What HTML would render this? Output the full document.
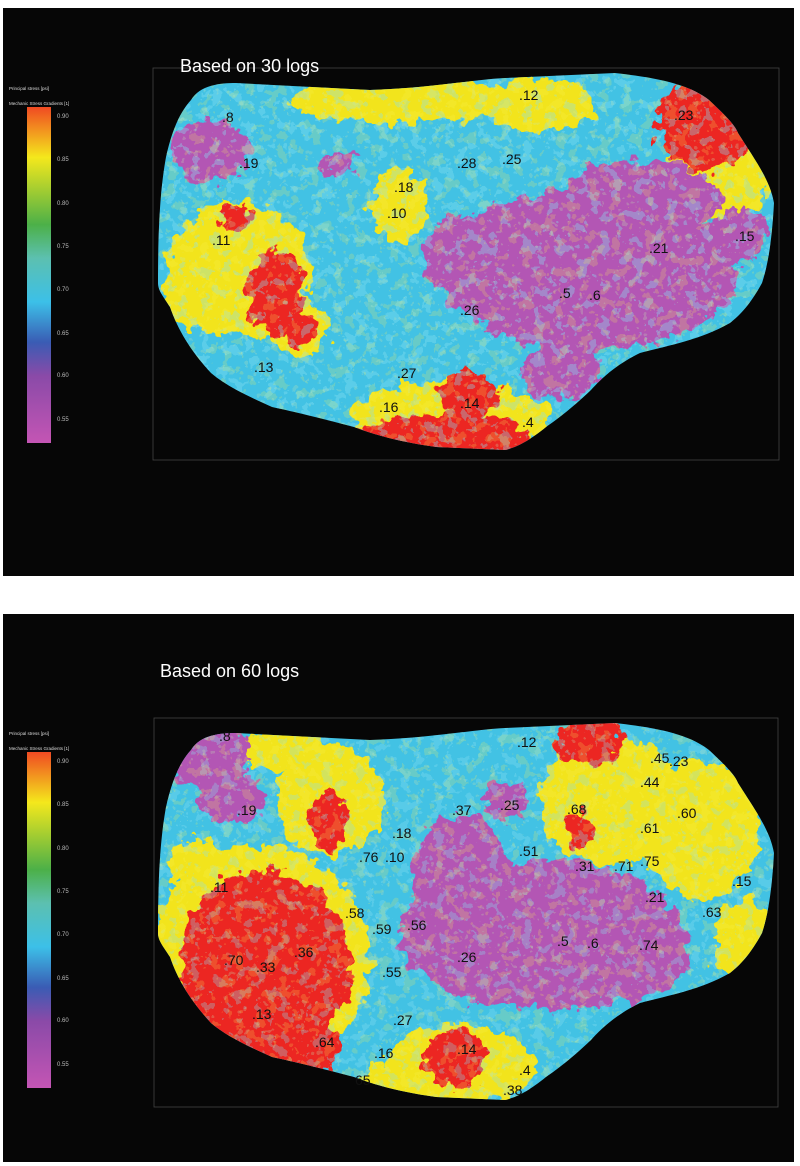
<!DOCTYPE html>
<html><head><style>
body{margin:0;background:#fff;width:800px;height:1166px;overflow:hidden}
svg{display:block}
</style></head><body>
<svg width="800" height="1166" viewBox="0 0 800 1166" xmlns="http://www.w3.org/2000/svg" font-family="Liberation Sans, sans-serif">
<defs>
<filter id="n" x="-30%" y="-30%" width="160%" height="160%">
<feTurbulence type="fractalNoise" baseFrequency="0.07" numOctaves="3" seed="4"/>
<feDisplacementMap in="SourceGraphic" scale="26" xChannelSelector="R" yChannelSelector="G"/>
</filter>
<filter id="n2" x="-30%" y="-30%" width="160%" height="160%">
<feTurbulence type="fractalNoise" baseFrequency="0.12" numOctaves="2" seed="9"/>
<feDisplacementMap in="SourceGraphic" scale="14" xChannelSelector="R" yChannelSelector="G"/>
</filter>
<filter id="spC" x="0" y="0" width="100%" height="100%">
<feTurbulence type="fractalNoise" baseFrequency="0.09" numOctaves="3" seed="21"/>
<feColorMatrix type="matrix" values="0 0 0 0 0.26  0 0 0 0 0.76  0 0 0 0 0.89  1 0 0 0 0"/>
<feComponentTransfer><feFuncA type="discrete" tableValues="0 0 0 0 0 0 1 1 1 1"/></feComponentTransfer>
</filter>
<filter id="spY" x="0" y="0" width="100%" height="100%">
<feTurbulence type="fractalNoise" baseFrequency="0.09" numOctaves="3" seed="57"/>
<feColorMatrix type="matrix" values="0 0 0 0 0.95  0 0 0 0 0.89  0 0 0 0 0.11  1 0 0 0 0"/>
<feComponentTransfer><feFuncA type="discrete" tableValues="0 0 0 0 0 0 1 1 1 1"/></feComponentTransfer>
</filter>
<filter id="spG" x="0" y="0" width="100%" height="100%">
<feTurbulence type="fractalNoise" baseFrequency="0.14" numOctaves="2" seed="77"/>
<feColorMatrix type="matrix" values="0 0 0 0 0.55  0 0 0 0 0.78  0 0 0 0 0.45  1 0 0 0 0"/>
<feComponentTransfer><feFuncA type="discrete" tableValues="0 0 0 0 0 0 0 1 1 1"/></feComponentTransfer>
</filter>
<linearGradient id="cb" x1="0" y1="1" x2="0" y2="0">
<stop offset="0" stop-color="#c455b4"/>
<stop offset="0.2" stop-color="#8a4aa8"/>
<stop offset="0.3" stop-color="#3a5cb4"/>
<stop offset="0.42" stop-color="#3cc0e8"/>
<stop offset="0.55" stop-color="#5cc0b0"/>
<stop offset="0.65" stop-color="#4cb048"/>
<stop offset="0.85" stop-color="#f4e81c"/>
<stop offset="1" stop-color="#f04a22"/>
</linearGradient>
<path id="b2" d="M191,750 C200,735 220,733 236,733 L370,740 C430,738 470,730 505,728 L615,723 C660,728 690,735 709,750 C725,765 735,775 738,783 C755,810 770,830 774,853 C772,890 768,915 762,933 C750,955 740,965 730,973 C700,990 670,995 640,1003 C615,1015 600,1030 591,1040 C570,1060 556,1070 546,1077 C530,1090 518,1097 505,1100 L436,1097 C400,1092 375,1085 354,1077 C320,1068 295,1062 272,1057 C245,1045 225,1035 211,1023 C190,1000 178,980 170,957 C162,945 158,940 158,933 C158,880 160,840 166,807 C172,780 180,762 191,750 Z"/>
<clipPath id="c1"><use href="#b2" transform="translate(0,-650)"/></clipPath>
<clipPath id="c2"><use href="#b2"/></clipPath>
</defs>

<rect x="3" y="8" width="791" height="568" fill="#060606"/>
<rect x="3" y="614" width="791" height="548" fill="#060606"/>

<g stroke="#444" stroke-width="0.8" fill="none">
<rect x="153" y="68" width="626" height="392"/>
<rect x="154" y="718" width="624" height="389"/>
</g>

<text x="180" y="72" fill="#fff" font-size="18">Based on 30 logs</text>
<text x="160" y="677" fill="#fff" font-size="18">Based on 60 logs</text>

<g id="cbar">
<text x="9" y="90" fill="#ddd" font-size="4.5">Principal stress [psi]</text>
<text x="9" y="105" fill="#ddd" font-size="4.5">Mechanic Stress Gradients [1]</text>
<rect x="27" y="107" width="24" height="336" fill="url(#cb)"/>
<g fill="#bbb" font-size="6">
<text x="57" y="118">0.90</text><text x="57" y="161">0.85</text><text x="57" y="205">0.80</text>
<text x="57" y="248">0.75</text><text x="57" y="291">0.70</text><text x="57" y="335">0.65</text>
<text x="57" y="377">0.60</text><text x="57" y="421">0.55</text>
</g>
</g>
<use href="#cbar" transform="translate(0,645)"/>

<!-- blob 1 -->
<g clip-path="url(#c1)">
<rect x="150" y="60" width="640" height="420" fill="#42c2e4"/>
<g filter="url(#n)">
<g fill="#f2e41c">
<ellipse cx="240" cy="270" rx="72" ry="68"/><ellipse cx="400" cy="100" rx="110" ry="25"/>
<ellipse cx="540" cy="105" rx="55" ry="28"/><ellipse cx="400" cy="205" rx="28" ry="38"/>
<ellipse cx="720" cy="170" rx="55" ry="50"/><ellipse cx="185" cy="290" rx="22" ry="36"/>
<ellipse cx="450" cy="420" rx="100" ry="40"/><ellipse cx="300" cy="330" rx="28" ry="28"/>
</g>
<g fill="#b356b4">
<ellipse cx="590" cy="270" rx="150" ry="80"/><ellipse cx="470" cy="255" rx="50" ry="40"/>
<ellipse cx="640" cy="200" rx="80" ry="40"/><ellipse cx="210" cy="150" rx="38" ry="32"/>
<ellipse cx="560" cy="370" rx="40" ry="30"/><ellipse cx="740" cy="235" rx="30" ry="25"/>
<ellipse cx="340" cy="165" rx="18" ry="14"/>
</g>
<g fill="#ec2620">
<ellipse cx="440" cy="440" rx="95" ry="25"/><ellipse cx="470" cy="395" rx="30" ry="25"/>
<ellipse cx="705" cy="125" rx="50" ry="45"/><ellipse cx="275" cy="290" rx="28" ry="42"/>
<ellipse cx="235" cy="220" rx="18" ry="14"/><ellipse cx="300" cy="330" rx="16" ry="16"/>
</g>
</g>
<rect x="150" y="60" width="640" height="420" filter="url(#spC)" opacity="0.35"/>
<rect x="150" y="60" width="640" height="420" filter="url(#spY)" opacity="0.2"/>
<rect x="150" y="60" width="640" height="420" filter="url(#spG)" opacity="0.25"/>
</g>

<!-- blob 2 -->
<g clip-path="url(#c2)">
<rect x="150" y="710" width="640" height="400" fill="#42c2e4"/>
<g filter="url(#n)">
<g fill="#f2e41c">
<ellipse cx="260" cy="960" rx="110" ry="115"/><ellipse cx="610" cy="800" rx="70" ry="65"/>
<ellipse cx="700" cy="830" rx="60" ry="70"/><ellipse cx="330" cy="800" rx="55" ry="55"/>
<ellipse cx="460" cy="1065" rx="75" ry="40"/><ellipse cx="200" cy="870" rx="30" ry="30"/>
<ellipse cx="745" cy="945" rx="30" ry="45"/><ellipse cx="395" cy="1085" rx="40" ry="20"/>
<ellipse cx="280" cy="750" rx="45" ry="20"/>
</g>
<g fill="#b356b4">
<ellipse cx="540" cy="935" rx="140" ry="75"/><ellipse cx="460" cy="875" rx="50" ry="60"/>
<ellipse cx="630" cy="955" rx="60" ry="45"/><ellipse cx="210" cy="755" rx="40" ry="35"/>
<ellipse cx="230" cy="800" rx="35" ry="22"/><ellipse cx="505" cy="800" rx="22" ry="18"/>
</g>
<g fill="#ec2620">
<ellipse cx="265" cy="965" rx="85" ry="95"/><ellipse cx="300" cy="1050" rx="40" ry="30"/>
<ellipse cx="590" cy="742" rx="35" ry="25"/><ellipse cx="330" cy="820" rx="18" ry="30"/>
<ellipse cx="455" cy="1060" rx="30" ry="30"/><ellipse cx="580" cy="830" rx="14" ry="18"/>
</g>
</g>
<rect x="150" y="710" width="640" height="400" filter="url(#spC)" opacity="0.3"/>
<rect x="150" y="710" width="640" height="400" filter="url(#spY)" opacity="0.2"/>
<rect x="150" y="710" width="640" height="400" filter="url(#spG)" opacity="0.25"/>
</g>

<g font-size="14" fill="#111">
<text x="222" y="122">.8</text><text x="519" y="100">.12</text><text x="674" y="120">.23</text>
<text x="239" y="168">.19</text><text x="457" y="168">.28</text><text x="502" y="164">.25</text>
<text x="394" y="192">.18</text><text x="387" y="218">.10</text><text x="212" y="245">.11</text>
<text x="649" y="253">.21</text><text x="735" y="241">.15</text><text x="559" y="298">.5</text>
<text x="589" y="300">.6</text><text x="460" y="315">.26</text><text x="254" y="372">.13</text>
<text x="397" y="378">.27</text><text x="379" y="412">.16</text><text x="460" y="408">.14</text>
<text x="522" y="427">.4</text>

<text x="219" y="741">.8</text><text x="517" y="747">.12</text><text x="650" y="763">.45</text>
<text x="669" y="766">.23</text><text x="640" y="787">.44</text><text x="237" y="815">.19</text>
<text x="452" y="815">.37</text><text x="500" y="810">.25</text><text x="567" y="814">.68</text>
<text x="677" y="818">.60</text><text x="640" y="833">.61</text><text x="392" y="838">.18</text>
<text x="359" y="862">.76</text><text x="385" y="862">.10</text><text x="519" y="856">.51</text>
<text x="575" y="871">.31</text><text x="614" y="871">.71</text><text x="640" y="866">.75</text>
<text x="210" y="892">.11</text><text x="732" y="886">.15</text><text x="645" y="902">.21</text>
<text x="702" y="917">.63</text><text x="345" y="918">.58</text><text x="372" y="934">.59</text>
<text x="407" y="930">.56</text><text x="457" y="962">.26</text><text x="557" y="946">.5</text>
<text x="587" y="948">.6</text><text x="639" y="950">.74</text><text x="224" y="965">.70</text>
<text x="256" y="972">.33</text><text x="294" y="957">.36</text><text x="382" y="977">.55</text>
<text x="252" y="1019">.13</text><text x="393" y="1025">.27</text><text x="315" y="1047">.64</text>
<text x="374" y="1058">.16</text><text x="457" y="1054">.14</text><text x="519" y="1075">.4</text>
<text x="355" y="1085">65</text><text x="503" y="1095">.38</text>
</g>
</svg>
</body></html>
